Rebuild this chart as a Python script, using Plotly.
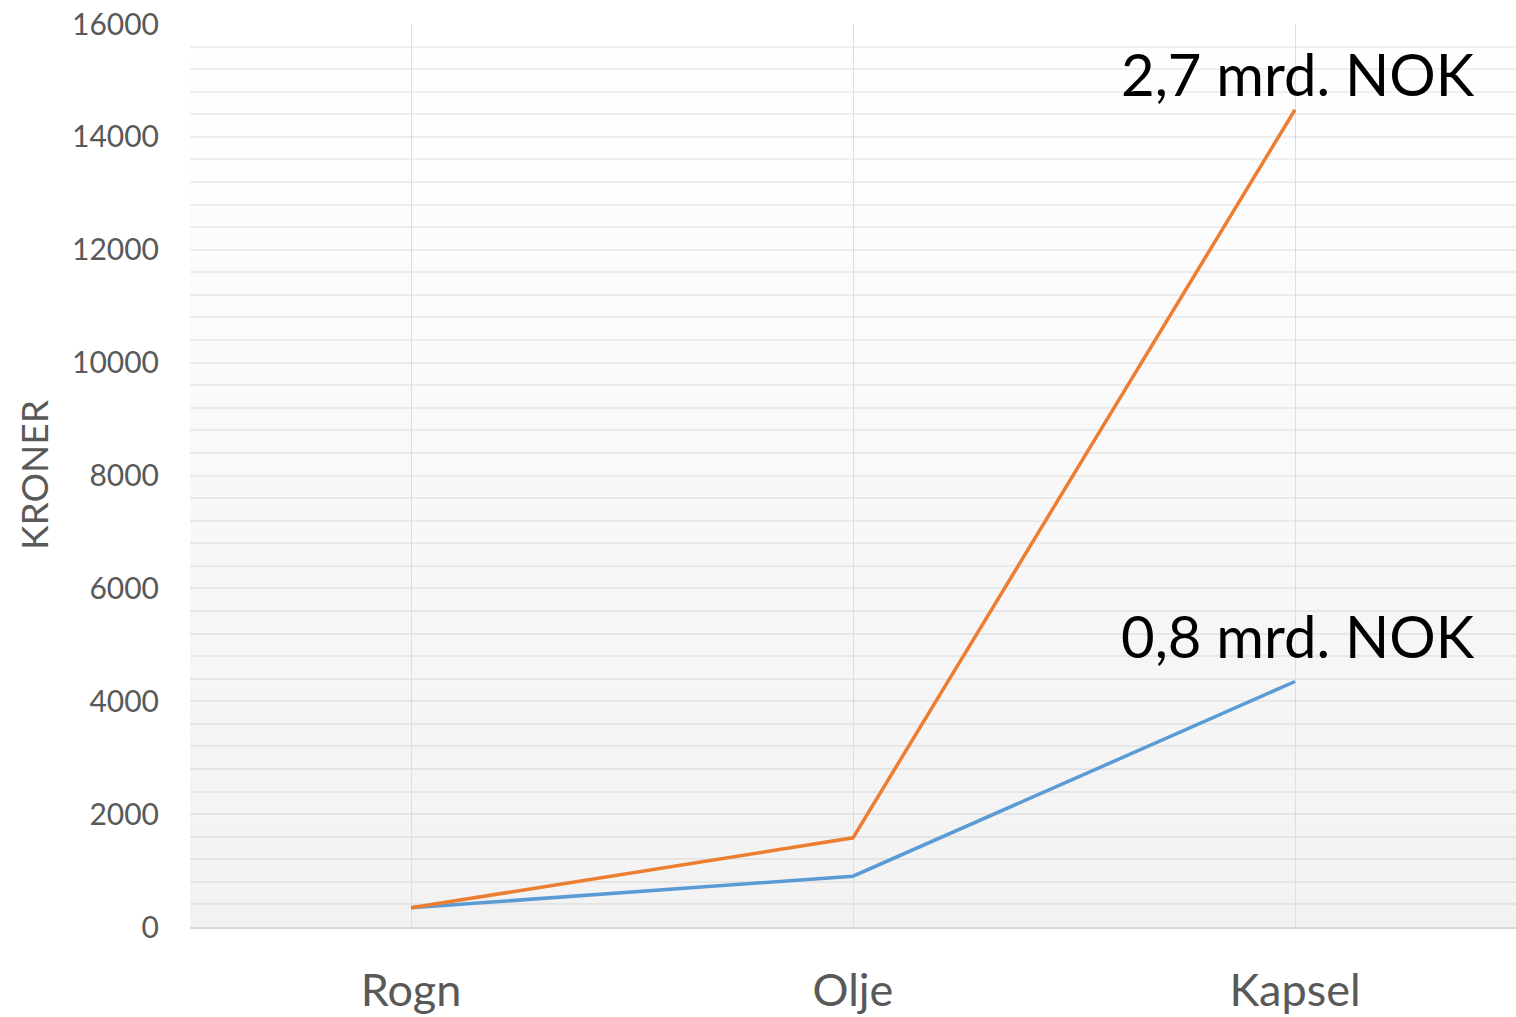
import plotly.graph_objects as go

# Data
categories = ["Rogn", "Olje", "Kapsel"]
series_high = [340, 1580, 14480]   # orange line
series_low = [340, 900, 4350]      # blue line
labels_end = ["2,7 mrd. NOK", "0,8 mrd. NOK"]
y_title = "KRONER"

ORANGE = "#ED7D31"
BLUE = "#5B9BD5"
TICK_GREY = "#595959"
FONT = "Lato, 'Open Sans', sans-serif"

fig = go.Figure()
fig.add_trace(go.Scatter(x=categories, y=series_low, mode="lines",
                         line=dict(color=BLUE, width=3.5), name="low"))
fig.add_trace(go.Scatter(x=categories, y=series_high, mode="lines",
                         line=dict(color=ORANGE, width=3.5), name="high"))

# soft white-to-grey vertical gradient behind the plot area
n_bands = 60
shapes = []
for i in range(n_bands):
    t = (i + 0.5) / n_bands
    c = round(255 - (255 - 242) * t)
    shapes.append(dict(
        type="rect", xref="x domain", yref="y domain",
        x0=0, x1=1, y0=1 - (i + 1) / n_bands, y1=1 - i / n_bands,
        fillcolor=f"rgb({c},{c},{c})", line=dict(width=0), layer="below",
    ))

fig.add_annotation(x=categories[-1], y=series_high[-1], text=labels_end[0],
                   showarrow=False, xanchor="center", yanchor="middle",
                   xshift=3, yshift=36, font=dict(family=FONT, size=58, color="black"))
fig.add_annotation(x=categories[-1], y=series_low[-1], text=labels_end[1],
                   showarrow=False, xanchor="center", yanchor="middle",
                   xshift=3, yshift=46, font=dict(family=FONT, size=58, color="black"))

# y-axis title placed by hand (axis title standoff is ignored without automargin)
fig.add_annotation(xref="paper", yref="paper", x=-0.118, y=0.5, text=y_title,
                   textangle=-90, showarrow=False, xanchor="center", yanchor="middle",
                   font=dict(family=FONT, size=37, color=TICK_GREY))

fig.update_layout(
    width=1516, height=1017,
    margin=dict(l=190, r=0, t=24, b=90),
    paper_bgcolor="white",
    plot_bgcolor="rgba(0,0,0,0)",
    showlegend=False,
    shapes=shapes,
    font=dict(family=FONT, color=TICK_GREY),
    xaxis=dict(
        type="category", range=[-0.5, 2.5], automargin=False,
        showgrid=True, gridcolor="#dedede", gridwidth=1,
        showline=True, linecolor="#d9d9d9", linewidth=1.5,
        zeroline=False, ticks="",
        tickfont=dict(family=FONT, size=45, color=TICK_GREY),
        ticklabelstandoff=23,
    ),
    yaxis=dict(
        range=[0, 16000], dtick=2000, tick0=0, tickformat="d", automargin=False,
        ticklabeloverflow="allow",
        showgrid=True, gridcolor="rgba(0,0,0,0.06)", gridwidth=1.5,
        minor=dict(dtick=400, showgrid=True, gridcolor="rgba(0,0,0,0.06)", gridwidth=1.5),
        zeroline=False, showline=False, ticks="",
        tickfont=dict(family=FONT, size=30, color=TICK_GREY),
        ticklabelstandoff=30,
    ),
)

# drop the default 8px body margin so the figure fills the window exactly
fig.write_html("out.html", config={"displayModeBar": False},
               post_script="document.body.style.margin='0';")
